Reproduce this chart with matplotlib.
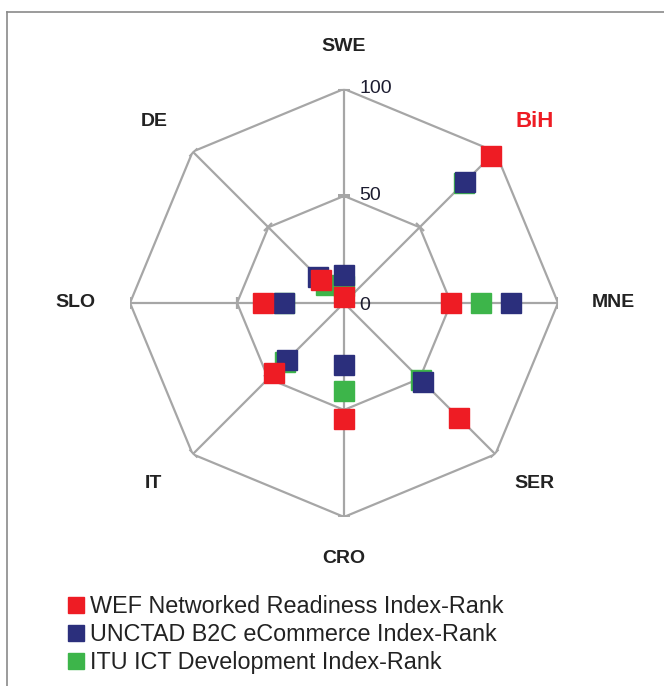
import numpy as np
import matplotlib
matplotlib.use('Agg')
import matplotlib.pyplot as plt
from matplotlib.markers import MarkerStyle
from matplotlib.transforms import Affine2D
from matplotlib.lines import Line2D

plt.rcParams['font.family'] = ['Liberation Sans', 'DejaVu Sans']

# countries, clockwise from the top
countries = ['SWE', 'BiH', 'MNE', 'SER', 'CRO', 'IT', 'SLO', 'DE']
label_colors = ['#222222', '#ee1c24', '#222222', '#222222',
                '#222222', '#222222', '#222222', '#222222']

wef = [3, 97, 50, 76, 54, 46, 38, 15]
unctad = [13, 80, 78, 52, 29, 38, 28, 17]
itu = [8, 79, 64, 51, 41, 39, 28, 12]

series_names = ['WEF Networked Readiness Index-Rank',
                'UNCTAD B2C eCommerce Index-Rank',
                'ITU ICT Development Index-Rank']
series_colors = ['#ee1c24', '#2b2f7c', '#3db54a']
rings = [50, 100]
ring_labels = ['0', '50', '100']

GRID = '#a6a6a6'

fig = plt.figure(figsize=(6.64, 6.86), dpi=100)
ax = fig.add_axes([0.1958, 0.2464, 0.6446, 0.624], projection='polar')
ax.set_theta_offset(np.pi / 2)
ax.set_theta_direction(-1)
ax.set_ylim(0, 100)
ax.grid(False)
ax.spines['polar'].set_visible(False)
ax.set_xticks([])
ax.set_yticks([])
ax.patch.set_alpha(0)

n = len(countries)
theta = np.arange(n) * 2 * np.pi / n

# spokes
for t in theta:
    ax.plot([t, t], [0, 100], color=GRID, lw=1.6, zorder=1)

# octagon rings
closed = np.append(theta, theta[0])
for r in rings:
    ax.plot(closed, [r] * (n + 1), color=GRID, lw=1.6, zorder=1)

# small tick marks across each spoke
for t in theta:
    deg = np.degrees(t)
    m = MarkerStyle('_', transform=Affine2D().rotate_deg(-deg))
    for r in rings:
        ax.plot([t], [r], marker=m, color=GRID, ms=9, mew=1.6, zorder=1)

# ring value labels
for v, lab in zip([0] + rings, ring_labels):
    ax.annotate(lab, xy=(0, v), xytext=(11, 0 if v else -2),
                textcoords='offset points', ha='left', va='center',
                fontsize=14, color='#1c1c30')

# data points, drawn green -> blue -> red so red is on top
order = [2, 1, 0]
data = [wef, unctad, itu]
for i in order:
    ax.plot(theta, data[i], ls='none', marker='s', ms=14,
            color=series_colors[i], mec=series_colors[i], zorder=3 + (2 - i),
            clip_on=False)

# country labels, pushed outward from the outer vertex
for t, c, col in zip(theta, countries, label_colors):
    off = (55 * np.sin(t), 42 * np.cos(t))
    big = col != '#222222'
    ax.annotate(c, xy=(t, 100), xytext=off, textcoords='offset pixels',
                ha='center', va='center', fontsize=16 if big else 14,
                fontweight='bold', color=col, annotation_clip=False)

# legend
leg_handles = [Line2D([], [], ls='none', marker='s', ms=11, color=c) for c in series_colors]
fig.legend(leg_handles, series_names, loc='upper left',
           bbox_to_anchor=(0.085, 0.149), frameon=False, fontsize=16.8,
           handlelength=0.65, handletextpad=0.3, labelspacing=0.2,
           borderpad=0, labelcolor='#222222')

# outer frame (only left and top visible in the crop)
fig.add_artist(Line2D([7 / 664, 7 / 664], [0, 1 - 12 / 686], color='#8a8a8a', lw=1.2))
fig.add_artist(Line2D([7 / 664, 1], [1 - 12 / 686, 1 - 12 / 686], color='#8a8a8a', lw=1.2))

fig.savefig('out.png', dpi=100)
